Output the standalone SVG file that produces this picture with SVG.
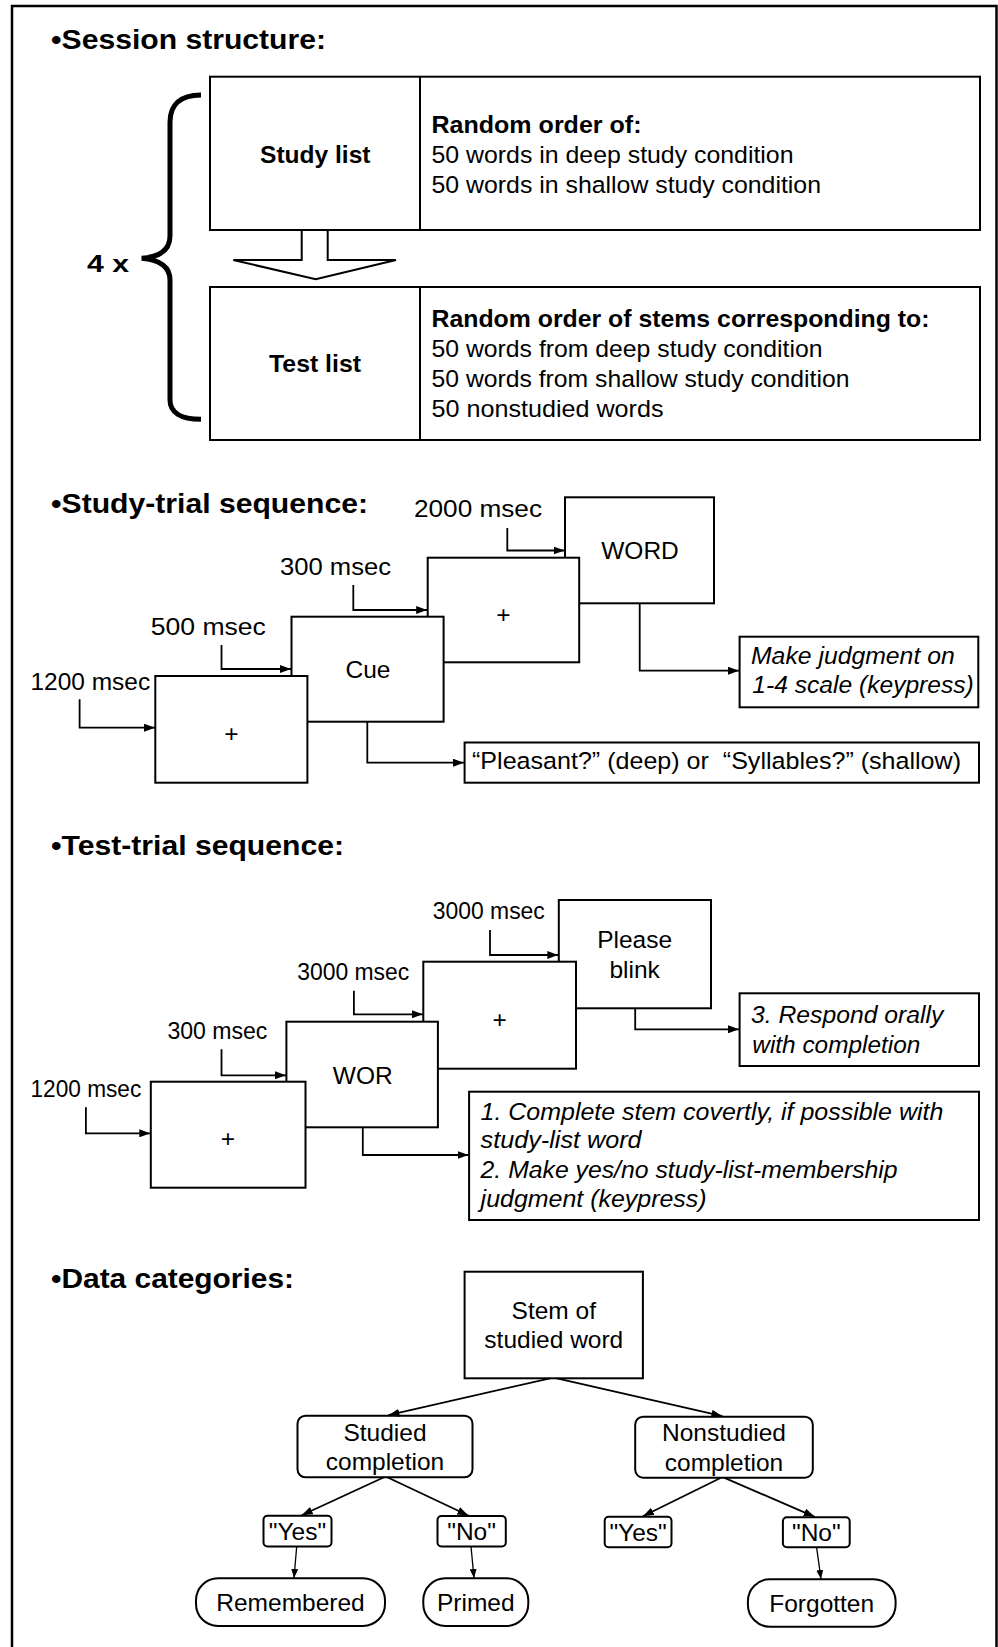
<svg xmlns="http://www.w3.org/2000/svg" width="998" height="1647" viewBox="0 0 998 1647">
<style>
.t{font-family:"Liberation Sans",Arial,Helvetica,sans-serif;font-size:24.5px;fill:#000}
.b{font-weight:bold}
.i{font-style:italic}
.h{font-family:"Liberation Sans",Arial,Helvetica,sans-serif;font-size:28px;font-weight:bold;fill:#000}
.m{text-anchor:middle}
.box{fill:#fff;stroke:#000;stroke-width:2}
.conn{fill:none;stroke:#000;stroke-width:1.8;marker-end:url(#ah)}
.thin{fill:none;stroke:#000;stroke-width:1.3;marker-end:url(#ah2)}
</style>
<defs>
<marker id="ah" markerUnits="userSpaceOnUse" markerWidth="11" markerHeight="8" refX="11" refY="4" orient="auto"><path d="M0,0 L11,4 L0,8 z" fill="#000"/></marker>
<marker id="ah2" markerUnits="userSpaceOnUse" markerWidth="9" markerHeight="7" refX="9" refY="3.5" orient="auto"><path d="M0,0 L9,3.5 L0,7 z" fill="#000"/></marker>
</defs>
<rect width="998" height="1647" fill="#fff"/>
<rect x="12" y="6" width="984.5" height="1670" fill="none" stroke="#000" stroke-width="2.5"/>

<g id="titles">
<text class="h" x="51" y="49.3" textLength="275" lengthAdjust="spacingAndGlyphs">•Session structure:</text>
<text class="h" x="51" y="513.3" textLength="317" lengthAdjust="spacingAndGlyphs">•Study-trial sequence:</text>
<text class="h" x="51" y="855" textLength="293" lengthAdjust="spacingAndGlyphs">•Test-trial sequence:</text>
<text class="h" x="51" y="1288.3" textLength="243" lengthAdjust="spacingAndGlyphs">•Data categories:</text>
</g>

<!-- Session structure -->
<g id="brace">
<path d="M201,95 C180,95 170,105 170,122 L170,236 C170,250 160,257 141.7,258.3 C160,260 170,267 170,280 L170,400 C170,412 180,419.3 201,419.3" fill="none" stroke="#000" stroke-width="5"/>
<text class="t b" x="87" y="271.7" textLength="42" lengthAdjust="spacingAndGlyphs">4 x</text>
</g>
<g id="study-list">
<rect class="box" x="210" y="76.7" width="770" height="153.3"/>
<line x1="420" y1="76.7" x2="420" y2="230" stroke="#000" stroke-width="2"/>
<text class="t b" x="260" y="163.3" textLength="110.5" lengthAdjust="spacingAndGlyphs">Study list</text>
<text class="t b" x="431.5" y="132.7" textLength="210" lengthAdjust="spacingAndGlyphs">Random order of:</text>
<text class="t" x="431.5" y="162.7" textLength="362" lengthAdjust="spacingAndGlyphs">50 words in deep study condition</text>
<text class="t" x="431.5" y="192.7" textLength="389.5" lengthAdjust="spacingAndGlyphs">50 words in shallow study condition</text>
</g>
<g id="test-list">
<rect class="box" x="210" y="287" width="770" height="153"/>
<line x1="420" y1="287" x2="420" y2="440" stroke="#000" stroke-width="2"/>
<text class="t b" x="269" y="371.7" textLength="92" lengthAdjust="spacingAndGlyphs">Test list</text>
<text class="t b" x="431.5" y="326.7" textLength="498" lengthAdjust="spacingAndGlyphs">Random order of stems corresponding to:</text>
<text class="t" x="431.5" y="356.7" textLength="391" lengthAdjust="spacingAndGlyphs">50 words from deep study condition</text>
<text class="t" x="431.5" y="386.7" textLength="418" lengthAdjust="spacingAndGlyphs">50 words from shallow study condition</text>
<text class="t" x="431.5" y="416.7" textLength="232" lengthAdjust="spacingAndGlyphs">50 nonstudied words</text>
</g>

<!-- Study-trial sequence -->
<g id="st-word">
<rect class="box" x="565" y="497.3" width="149" height="106"/>
<text class="t m" x="640" y="559.3">WORD</text>
</g>
<g id="st-plus2">
<rect class="box" x="427.7" y="557.7" width="151.5" height="104.6"/>
<text class="t m" x="503.5" y="622.8">+</text>
</g>
<g id="st-cue">
<rect class="box" x="291.5" y="616.7" width="152.1" height="105"/>
<text class="t m" x="368" y="678.3">Cue</text>
</g>
<g id="st-plus1">
<rect class="box" x="155.3" y="676" width="152.1" height="106.7"/>
<text class="t m" x="231.3" y="742">+</text>
</g>
<g id="st-labels">
<text class="t" x="30.5" y="690" textLength="119.7" lengthAdjust="spacingAndGlyphs">1200 msec</text>
<text class="t" x="150.8" y="635" textLength="115" lengthAdjust="spacingAndGlyphs">500 msec</text>
<text class="t" x="280" y="575" textLength="111" lengthAdjust="spacingAndGlyphs">300 msec</text>
<text class="t" x="414" y="517.3" textLength="128" lengthAdjust="spacingAndGlyphs">2000 msec</text>
</g>
<g id="st-judgment">
<rect class="box" x="739.6" y="636.7" width="238.7" height="70.6"/>
<text class="t i" x="751" y="664" textLength="203.7" lengthAdjust="spacingAndGlyphs">Make judgment on</text>
<text class="t i" x="752.3" y="693.3" textLength="221.5" lengthAdjust="spacingAndGlyphs">1-4 scale (keypress)</text>
</g>
<g id="st-cue-text">
<rect class="box" x="464.6" y="742.5" width="514.4" height="40.2"/>
<text class="t" x="472" y="769" textLength="489" lengthAdjust="spacingAndGlyphs">“Pleasant?” (deep) or&#160; “Syllables?” (shallow)</text>
</g>

<!-- Test-trial sequence -->
<g id="tt-blink">
<rect class="box" x="558.8" y="900" width="152.2" height="108.3"/>
<text class="t m" x="634.6" y="948.3">Please</text>
<text class="t m" x="634.6" y="978.3">blink</text>
</g>
<g id="tt-plus2">
<rect class="box" x="423.3" y="961.7" width="152.7" height="107"/>
<text class="t m" x="499.6" y="1028">+</text>
</g>
<g id="tt-wor">
<rect class="box" x="286.4" y="1021.7" width="151.5" height="105.6"/>
<text class="t m" x="362.8" y="1084">WOR</text>
</g>
<g id="tt-plus1">
<rect class="box" x="150.8" y="1081.7" width="154.7" height="106"/>
<text class="t m" x="228" y="1147">+</text>
</g>
<g id="tt-labels">
<text class="t" x="432.8" y="919.3" textLength="112" lengthAdjust="spacingAndGlyphs">3000 msec</text>
<text class="t" x="297.2" y="980" textLength="112" lengthAdjust="spacingAndGlyphs">3000 msec</text>
<text class="t" x="167.4" y="1039" textLength="100" lengthAdjust="spacingAndGlyphs">300 msec</text>
<text class="t" x="30.5" y="1096.7" textLength="110.8" lengthAdjust="spacingAndGlyphs">1200 msec</text>
</g>
<g id="tt-respond">
<rect class="box" x="739.6" y="993.3" width="239.4" height="72.7"/>
<text class="t i" x="751" y="1023.3" textLength="192.3" lengthAdjust="spacingAndGlyphs">3. Respond orally</text>
<text class="t i" x="752.3" y="1052.7" textLength="168" lengthAdjust="spacingAndGlyphs">with completion</text>
</g>
<g id="tt-instructions">
<rect class="box" x="469.1" y="1091.7" width="509.9" height="128.3"/>
<text class="t i" x="480.6" y="1120" textLength="462.7" lengthAdjust="spacingAndGlyphs">1. Complete stem covertly, if possible with</text>
<text class="t i" x="480.6" y="1148.3" textLength="161" lengthAdjust="spacingAndGlyphs">study-list word</text>
<text class="t i" x="480.6" y="1178.3" textLength="417" lengthAdjust="spacingAndGlyphs">2. Make yes/no study-list-membership</text>
<text class="t i" x="480.6" y="1206.7" textLength="226" lengthAdjust="spacingAndGlyphs">judgment (keypress)</text>
</g>

<!-- Data categories -->
<g id="dc-stem">
<rect class="box" x="464.6" y="1271.7" width="178.3" height="106.6"/>
<text class="t m" x="553.8" y="1319">Stem of</text>
<text class="t m" x="553.8" y="1348.3">studied word</text>
</g>
<g id="dc-studied">
<rect class="box" x="297.5" y="1415.7" width="175" height="61.6" rx="8"/>
<text class="t m" x="385" y="1440.5">Studied</text>
<text class="t m" x="385" y="1470">completion</text>
</g>
<g id="dc-nonstudied">
<rect class="box" x="635.2" y="1416.7" width="177.6" height="61" rx="8"/>
<text class="t m" x="724" y="1441">Nonstudied</text>
<text class="t m" x="724" y="1471">completion</text>
</g>
<g id="dc-yes1">
<rect class="box" x="263.5" y="1515.7" width="68" height="30.8" rx="4"/>
<text class="t m" x="297.5" y="1540.3">"Yes"</text>
</g>
<g id="dc-no1">
<rect class="box" x="437.5" y="1516" width="68.3" height="30.5" rx="4"/>
<text class="t m" x="471.6" y="1540.3">"No"</text>
</g>
<g id="dc-yes2">
<rect class="box" x="604.7" y="1516.7" width="66.8" height="30.6" rx="4"/>
<text class="t m" x="638.1" y="1541">"Yes"</text>
</g>
<g id="dc-no2">
<rect class="box" x="782.9" y="1517.3" width="66.8" height="30" rx="4"/>
<text class="t m" x="816.3" y="1541">"No"</text>
</g>
<g id="dc-remembered">
<rect class="box" x="196" y="1578.3" width="189" height="47.7" rx="22"/>
<text class="t m" x="290.5" y="1610.7">Remembered</text>
</g>
<g id="dc-primed">
<rect class="box" x="423.3" y="1578.3" width="105" height="47.7" rx="22"/>
<text class="t m" x="475.8" y="1610.7">Primed</text>
</g>
<g id="dc-forgotten">
<rect class="box" x="747.9" y="1579.3" width="147.7" height="47.4" rx="22"/>
<text class="t m" x="821.7" y="1611.5">Forgotten</text>
</g>

<g id="connectors">
<polygon points="301.7,230 327.7,230 327.7,260 396,260 315.7,279.3 233.3,260 301.7,260" fill="#fff" stroke="#000" stroke-width="2"/>
<path class="conn" d="M79.6,699.3 V727.7 H155"/>
<path class="conn" d="M221.5,645 V669 H291"/>
<path class="conn" d="M353.3,585 V610 H427.2"/>
<path class="conn" d="M507.3,528 V550.5 H564.5"/>
<path class="conn" d="M639.7,603.3 V670.7 H739"/>
<path class="conn" d="M367.3,721.7 V762.7 H464"/>
<path class="conn" d="M85.9,1107.3 V1133.3 H150.3"/>
<path class="conn" d="M221.5,1049.3 V1075.3 H285.9"/>
<path class="conn" d="M353.9,990.7 V1014.3 H422.8"/>
<path class="conn" d="M490,930 V955 H558.3"/>
<path class="conn" d="M635.2,1008.3 V1029.3 H739"/>
<path class="conn" d="M362.8,1127.3 V1155 H468.6"/>
<path class="conn" d="M550,1378.3 L388.5,1415.2"/>
<path class="conn" d="M557,1378.3 L722.4,1416.2"/>
<path class="conn" d="M384,1477.3 L301.7,1515.2"/>
<path class="conn" d="M387.3,1477.3 L468.3,1515.5"/>
<path class="conn" d="M721,1477.7 L642.9,1516.2"/>
<path class="conn" d="M724,1477.7 L814.7,1516.8"/>
<path class="thin" d="M296.7,1546.5 L294,1578"/>
<path class="thin" d="M471,1546.5 L474,1578"/>
<path class="thin" d="M816.6,1547.3 L821,1579"/>
</g>
</svg>
